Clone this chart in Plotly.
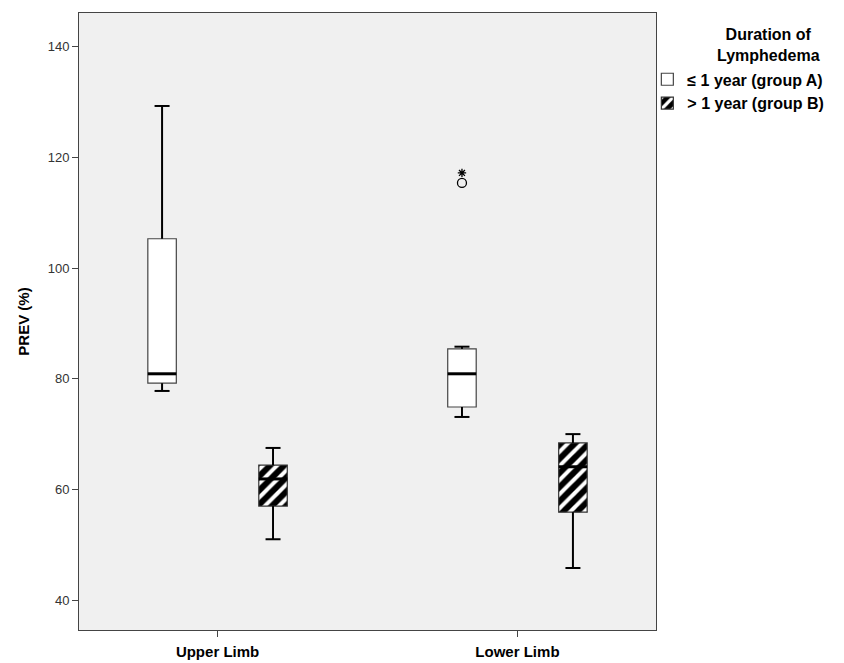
import plotly.graph_objects as go

# Box-plot summary statistics of PREV (%) by limb and lymphedema duration
categories = ["Upper Limb", "Lower Limb"]
group_names = ["\u2264 1 year (group A)", "> 1 year (group B)"]
legend_title = "Duration of<br>Lymphedema"

upper_whisker_a = [129.3, 85.8]
q3_a = [105.3, 85.4]
median_a = [80.9, 80.9]
q1_a = [79.2, 74.9]
lower_whisker_a = [77.8, 73.1]

upper_whisker_b = [67.5, 70.0]
q3_b = [64.4, 68.4]
median_b = [61.9, 64.1]
q1_b = [57.0, 55.9]
lower_whisker_b = [51.0, 45.8]

# Outliers of group A, lower limb: one mild (circle), one extreme (star)
outlier_circle = [115.4]
outlier_star = [117.2]
outlier_category = 1

y_ticks = [40, 60, 80, 100, 120, 140]

FONT = "Liberation Sans, Arial, sans-serif"
OFFSET = 0.185      # cluster offset of each group from category centre
BOX_W = 0.095       # box width in category units
CAP_W = 0.05        # whisker cap width

fig = go.Figure()


def add_group(offset, upper, q3, med, q1, lower, name, hatched):
    xs = [i + offset for i in range(len(categories))]
    marker = dict(color="white", line=dict(color="#444444", width=1.2))
    if hatched:
        marker = dict(
            color="black",
            line=dict(color="#333333", width=1.2),
            pattern=dict(shape="/", fgcolor="white", bgcolor="black",
                         size=10, solidity=0.4, fillmode="replace"),
        )
    # whiskers and caps
    wx, wy = [], []
    for x, u, t, b, l in zip(xs, upper, q3, q1, lower):
        wx += [x, x, None, x, x, None,
               x - CAP_W / 2, x + CAP_W / 2, None,
               x - CAP_W / 2, x + CAP_W / 2, None]
        wy += [t, u, None, b, l, None, u, u, None, l, l, None]
    fig.add_trace(go.Scatter(x=wx, y=wy, mode="lines",
                             line=dict(color="black", width=2),
                             showlegend=False, hoverinfo="skip"))
    # box body
    fig.add_trace(go.Bar(
        x=xs, y=[t - b for t, b in zip(q3, q1)], base=q1, width=BOX_W,
        marker=marker, name=name, showlegend=True,
    ))
    # median line
    mx, my = [], []
    for x, m in zip(xs, med):
        mx += [x - BOX_W / 2, x + BOX_W / 2, None]
        my += [m, m, None]
    fig.add_trace(go.Scatter(x=mx, y=my, mode="lines",
                             line=dict(color="black", width=3),
                             showlegend=False, hoverinfo="skip"))


add_group(-OFFSET, upper_whisker_a, q3_a, median_a, q1_a, lower_whisker_a,
          group_names[0], False)
add_group(OFFSET, upper_whisker_b, q3_b, median_b, q1_b, lower_whisker_b,
          group_names[1], True)

# outliers
fig.add_trace(go.Scatter(
    x=[outlier_category - OFFSET] * len(outlier_circle), y=outlier_circle,
    mode="markers",
    marker=dict(symbol="circle-open", size=9, color="black",
                line=dict(width=1.3, color="black")),
    showlegend=False, hoverinfo="skip"))
fig.add_trace(go.Scatter(
    x=[outlier_category - OFFSET] * len(outlier_star), y=outlier_star,
    mode="markers",
    marker=dict(symbol="asterisk-open", size=7, color="black",
                line=dict(width=1.3, color="black")),
    showlegend=False, hoverinfo="skip"))

# centred legend heading
fig.add_annotation(
    text=legend_title, xref="paper", yref="paper",
    x=1.195, y=0.982, xanchor="center", yanchor="top", align="center",
    showarrow=False, font=dict(family=FONT, size=16, weight="bold"),
)

fig.update_layout(
    width=844, height=663,
    margin=dict(l=79, r=188, t=13, b=33, autoexpand=False),
    paper_bgcolor="white",
    plot_bgcolor="#F0F0F0",
    barmode="overlay",
    font=dict(family=FONT, size=13, color="black"),
    legend=dict(
        x=0.985, xanchor="left", y=0.92, yanchor="top",
        bgcolor="rgba(0,0,0,0)",
        font=dict(family=FONT, size=16, weight="bold"),
        itemwidth=30, tracegroupgap=0,
    ),
    xaxis=dict(
        range=[-0.462, 1.462], automargin=False,
        tickvals=list(range(len(categories))), ticktext=categories,
        tickfont=dict(family=FONT, size=15, weight="bold"),
        ticks="outside", ticklen=6, tickcolor="#444444", tickwidth=1,
        showline=True, linecolor="#444444", linewidth=1, mirror=True,
        showgrid=False, zeroline=False, ticklabelstandoff=2,
    ),
    yaxis=dict(
        range=[34.6, 146.1], automargin=False,
        tickvals=y_ticks,
        tickfont=dict(family=FONT, size=13, color="#333333"),
        ticks="outside", ticklen=6, tickcolor="#444444", tickwidth=1,
        showline=True, linecolor="#444444", linewidth=1, mirror=True,
        showgrid=False, zeroline=False,
        title=dict(text="PREV (%)", standoff=14,
                   font=dict(family=FONT, size=15, weight="bold")),
    ),
)

fig.write_html("out.html")
